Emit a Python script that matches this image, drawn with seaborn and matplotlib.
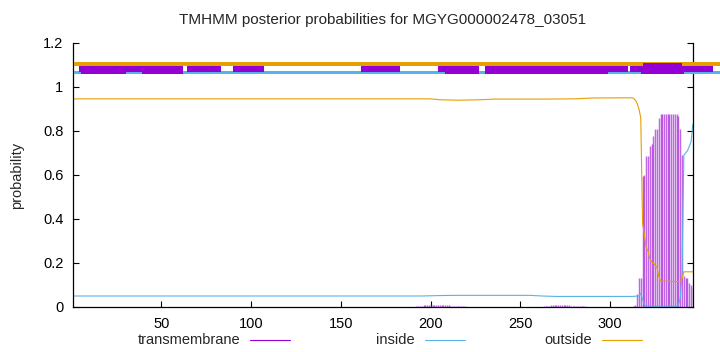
import numpy as np
import matplotlib
matplotlib.use("Agg")
import matplotlib.pyplot as plt
import seaborn as sns
from matplotlib.patches import Rectangle
from matplotlib.lines import Line2D

title = "TMHMM posterior probabilities for MGYG000002478_03051"
ylabel = "probability"
legend_labels = ["transmembrane", "inside", "outside"]
x_ticks = [50, 100, 150, 200, 250, 300]
y_ticks = [0, 0.2, 0.4, 0.6, 0.8, 1.0, 1.2]
y_tick_labels = ["0", "0.2", "0.4", "0.6", "0.8", "1", "1.2"]
seq_len = 346

# inside probability (line vertices)
inside_pos = [1, 195, 205, 215, 255, 262, 270, 300, 312, 316, 317, 318, 319, 320,
              337, 338, 339, 340, 341, 342, 343, 344, 345, 346]
inside_val = [0.05, 0.05, 0.052, 0.053, 0.053, 0.05, 0.048, 0.048, 0.048, 0.05, 0.062,
              0.035, 0.012, 0.004, 0.004, 0.01, 0.04, 0.15, 0.69, 0.70, 0.71, 0.73, 0.75, 0.83]

# outside probability (line vertices)
outside_pos = [1, 200, 205, 215, 228, 235, 260, 280, 290, 312, 313, 314, 315, 316, 317,
               318, 319, 320, 321, 322, 323, 324, 325, 326, 327, 328, 339, 340, 341, 346]
outside_val = [0.946, 0.946, 0.942, 0.94, 0.942, 0.945, 0.945, 0.946, 0.95, 0.951, 0.948,
               0.94, 0.925, 0.9, 0.86, 0.38, 0.33, 0.27, 0.255, 0.22, 0.205, 0.2, 0.19,
               0.18, 0.14, 0.118, 0.115, 0.13, 0.16, 0.16]

# transmembrane probability per residue (impulses)
tm_start_a = 191
tm_val_a = [0.002, 0.003, 0.004, 0.005, 0.006, 0.007, 0.008, 0.009, 0.011, 0.012, 0.011,
            0.01, 0.01, 0.009, 0.009, 0.008, 0.008, 0.007, 0.007, 0.007, 0.006, 0.006,
            0.006, 0.005, 0.005, 0.004, 0.004, 0.003, 0.003, 0.002, 0.002, 0.001]
tm_start_b = 262
tm_val_b = [0.002, 0.003, 0.004, 0.005, 0.006, 0.007, 0.008, 0.009, 0.009, 0.009, 0.009,
            0.008, 0.008, 0.008, 0.007, 0.007, 0.006, 0.006, 0.005, 0.005, 0.004, 0.004,
            0.003, 0.003, 0.003, 0.002, 0.002, 0.002, 0.001]
tm_start_c = 313
tm_val_c = [0.004, 0.01, 0.06, 0.13, 0.13, 0.595, 0.60, 0.686, 0.686, 0.73, 0.74, 0.777,
            0.81, 0.81, 0.86, 0.877, 0.877, 0.877, 0.877, 0.877, 0.877, 0.877, 0.877,
            0.877, 0.877, 0.868, 0.81, 0.69, 0.14, 0.13, 0.13, 0.11, 0.10, 0.085]

# predicted topology strips above the plot (start, end)
outside_strip = [(1, 362)]
inside_strip = [(1, 362)]
tm_strip = [(4, 62), (64, 83), (90, 107), (161, 183), (204, 227), (230, 310), (311, 357)]
tm_strip_deep = [(5, 30), (39, 62), (208, 227), (230, 299), (317, 341)]
tm_strip_high = [(318, 340)]

c_tm = "#9400D3"
c_in = "#56B4E9"
c_out = "#E69F00"

sns.set_theme(style="ticks")
plt.rcParams["font.family"] = ["Liberation Sans", "DejaVu Sans"]

fig = plt.figure(figsize=(7.2, 3.52), dpi=100)
ax = fig.add_axes([73 / 720, 45 / 352, 620 / 720, 264 / 352])

# impulses
for start, vals in [(tm_start_a, tm_val_a), (tm_start_b, tm_val_b), (tm_start_c, tm_val_c)]:
    xs = np.arange(start, start + len(vals))
    ax.vlines(xs, 0, vals, color=c_tm, lw=1.05, alpha=0.6)

sns.lineplot(x=inside_pos, y=inside_val, ax=ax, color=c_in, lw=0.8, estimator=None)
sns.lineplot(x=outside_pos, y=outside_val, ax=ax, color=c_out, lw=0.8, estimator=None)

def strip(segs, y0, y1, color):
    for s, e in segs:
        r = Rectangle((s, y0), e - s, y1 - y0, facecolor=color, edgecolor="none",
                      clip_on=False, zorder=5)
        ax.add_patch(r)

strip(outside_strip, 1.097, 1.114, c_out)
strip(inside_strip, 1.059, 1.073, c_in)
strip(tm_strip, 1.070, 1.097, c_tm)
strip(tm_strip_deep, 1.059, 1.097, c_tm)
strip(tm_strip_high, 1.062, 1.111, c_tm)

ax.set_xlim(0.7, 346.1)
ax.set_ylim(0, 1.2)
ax.set_xticks(x_ticks)
ax.set_xticklabels([str(t) for t in x_ticks])
ax.set_yticks(y_ticks)
ax.set_yticklabels(y_tick_labels)
ax.tick_params(direction="in", length=4, width=0.8, right=True, top=False,
               labelsize=10.5, colors="black", pad=7)
for side in ["left", "bottom", "right"]:
    ax.spines[side].set_visible(True)
    ax.spines[side].set_color("black")
    ax.spines[side].set_linewidth(0.9)
ax.spines["top"].set_visible(False)
ax.set_xlabel("")
ax.set_ylabel("")

fig.text(383 / 720, 1 - 20 / 352, title, ha="center", va="center", fontsize=11)
fig.text(17 / 720, 1 - 175 / 352, ylabel, ha="center", va="center", rotation=90, fontsize=10.5)

leg_y = 1 - 340 / 352
leg = [(240, 250, 290, c_tm), (415, 425, 465, c_in), (592, 602, 642, c_out)]
for lab, (tx, l0, l1, col) in zip(legend_labels, leg):
    fig.text(tx / 720, leg_y, lab, ha="right", va="center", fontsize=10.5)
    fig.add_artist(Line2D([l0 / 720, l1 / 720], [leg_y, leg_y], color=col, lw=0.8,
                          transform=fig.transFigure))

fig.savefig("out.png", dpi=100)
